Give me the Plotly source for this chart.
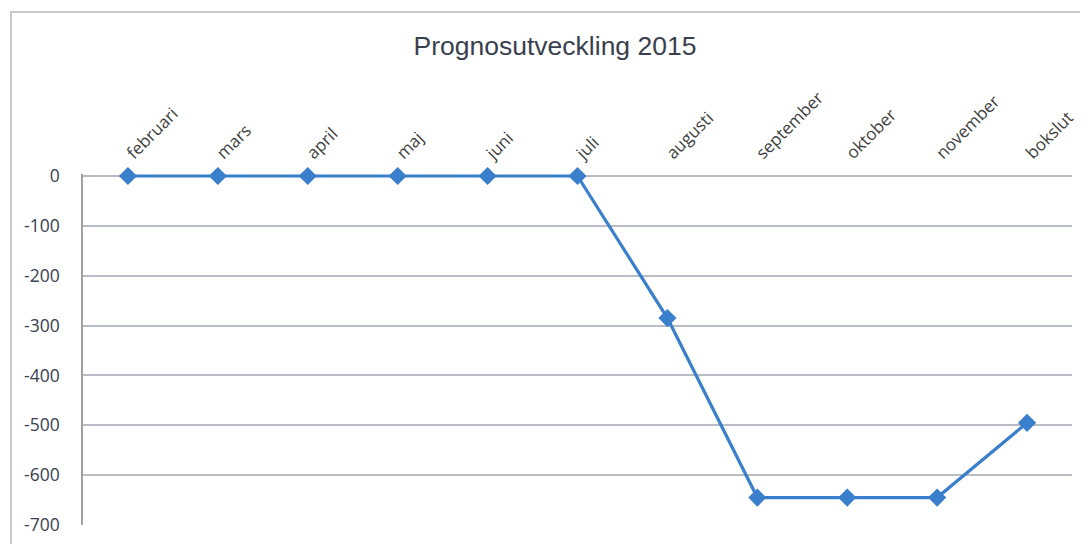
import plotly.graph_objects as go

categories = ["februari", "mars", "april", "maj", "juni", "juli", "augusti",
              "september", "oktober", "november", "bokslut"]
values = [0, 0, 0, 0, 0, 0, -285, -645, -645, -645, -495]
y_ticks = [0, -100, -200, -300, -400, -500, -600, -700]
y_tick_text = ["0", "-100", "-200", "-300", "-400", "-500", "-600", "-700"]

W, H = 1088, 544
OFF = 8  # page body margin
ml, mr, mt, mb = 83 - OFF, 16 + OFF, 174 - OFF, 19 + OFF
pw, ph = W - ml - mr, H - mt - mb

fig = go.Figure()
fig.add_trace(go.Scatter(
    x=categories, y=values, mode="lines+markers",
    line=dict(color="#3a7fcc", width=3.2),
    marker=dict(symbol="diamond", size=14, color="#3a7fcc"),
    cliponaxis=False, showlegend=False,
))

fig.update_layout(
    width=W, height=H,
    margin=dict(l=ml, r=mr, t=mt, b=mb, autoexpand=False),
    paper_bgcolor="white", plot_bgcolor="white",
    font=dict(family="Open Sans, Liberation Sans, sans-serif", color="#404040"),
    title=dict(text="Prognosutveckling 2015", x=(555 - OFF) / W, xanchor="center",
               y=1 - (46 - OFF) / H, yanchor="middle",
               font=dict(family="Liberation Sans, Arial, sans-serif",
                         size=26.5, color="#3a3f4e")),
    xaxis=dict(side="top", type="category", tickangle=-45,
               tickfont=dict(size=17, color="#404040"),
               showgrid=False, showline=False, ticks="", zeroline=False,
               automargin=False, ticklabelstandoff=7,
               range=[-0.5, len(categories) - 0.5]),
    yaxis=dict(range=[-700, 4], tickvals=y_ticks, ticktext=y_tick_text,
               tickfont=dict(size=17.5, color="#3a4150"),
               showgrid=True, gridcolor="#b8bcc4", gridwidth=1.5,
               zeroline=False, showline=True, linecolor="#a0a0a0", linewidth=1.5,
               ticks="", ticklabelstandoff=18, automargin=False),
    shapes=[
        dict(type="rect", xref="paper", yref="paper",
             x0=(11 - OFF - ml) / pw, x1=1.2,
             y0=-0.3, y1=1 + (mt - (12 - OFF)) / ph,
             line=dict(color="#c8c8cc", width=2), fillcolor="rgba(0,0,0,0)",
             layer="below"),
    ],
)

fig.write_html("out.html")
